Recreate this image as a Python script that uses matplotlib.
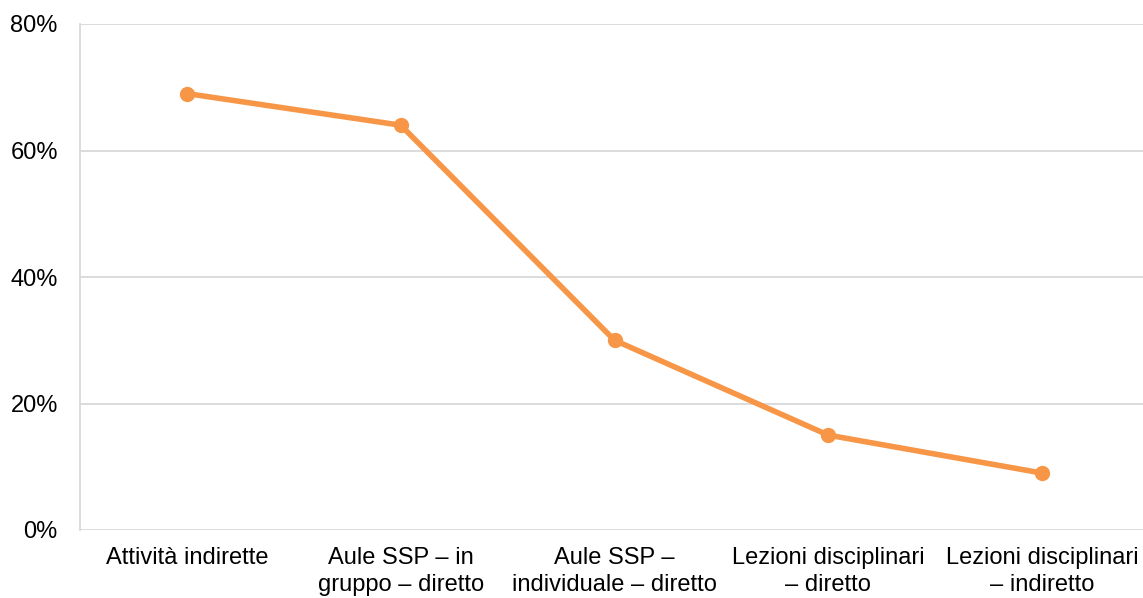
import numpy as np
import matplotlib.pyplot as plt
from matplotlib.ticker import FuncFormatter

plt.rcParams['font.family'] = ['Liberation Sans', 'DejaVu Sans']

categories = ['Attività indirette', 'Aule SSP – in\ngruppo – diretto',
              'Aule SSP –\nindividuale – diretto', 'Lezioni disciplinari\n– diretto',
              'Lezioni disciplinari\n– indiretto']
values = [0.69, 0.64, 0.30, 0.15, 0.09]
yticks = [0, 0.2, 0.4, 0.6, 0.8]

W, H = 1143, 598
fig = plt.figure(figsize=(W / 100, H / 100), dpi=100)
ax = fig.add_axes([80 / W, (H - 530) / H, (1149 - 80) / W, (530 - 24) / H])

x = np.arange(len(categories))
ax.plot(x, values, color='#F79646', lw=4, marker='o', ms=10, zorder=3)

ax.set_xlim(-0.5, len(categories) - 0.5)
ax.set_ylim(0, 0.8)
ax.set_yticks(yticks)
ax.yaxis.set_major_formatter(FuncFormatter(lambda v, p: f'{v:.0%}'))
ax.set_xticks(x)
ax.set_xticklabels(categories, linespacing=1.3)
ax.grid(axis='y', color='#D9D9D9', lw=1.3)
ax.set_axisbelow(True)
for s in ['top', 'right', 'bottom']:
    ax.spines[s].set_visible(False)
ax.spines['left'].set_color('#D9D9D9')
ax.spines['left'].set_linewidth(1.3)
ax.tick_params(axis='both', length=0, labelsize=17, colors='black')
ax.tick_params(axis='y', pad=16)
ax.tick_params(axis='x', pad=12)

fig.savefig('out.png', dpi=100)
